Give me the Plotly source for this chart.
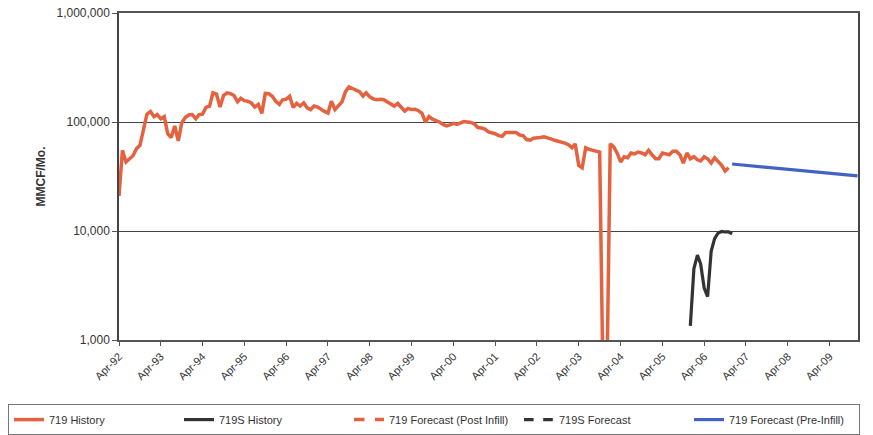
import plotly.graph_objects as go
import pandas as pd

# ---------------- data ----------------
hist_719_start = "1992-04-01"
hist_719_values = [
    21000, 55000, 43000, 46000, 49000, 57000, 61000, 85000, 118000, 125000, 112000, 117000,
    107000, 112000, 78000, 72000, 92000, 67000, 98000, 110000, 116000, 117000, 107000, 117000,
    118000, 136000, 140000, 185000, 180000, 137000, 175000, 185000, 182000, 175000, 153000, 165000,
    157000, 155000, 150000, 137000, 145000, 120000, 183000, 182000, 172000, 155000, 145000, 160000,
    162000, 172000, 136000, 148000, 140000, 150000, 135000, 130000, 140000, 137000, 130000, 125000,
    121000, 155000, 130000, 140000, 153000, 190000, 210000, 203000, 197000, 190000, 173000, 185000,
    170000, 163000, 160000, 162000, 160000, 153000, 148000, 140000, 148000, 135000, 126000, 133000,
    130000, 131000, 127000, 120000, 100000, 112000, 106000, 103000, 100000, 95000, 92000, 94000,
    97000, 95000, 98000, 101000, 100000, 99000, 96000, 89000, 88000, 86000, 81000, 80000,
    78000, 75000, 74000, 80000, 80000, 79000, 80000, 76000, 75000, 69000, 68000, 71000,
    71000, 72000, 73000, 72000, 70000, 68000, 67000, 66000, 64000, 62000, 58000, 63000,
    40000, 38000, 58000, 56000, 55000, 54000, 53000, 300, 300, 63000, 59000, 52000,
    43000, 48000, 47000, 52000, 51000, 53000, 52000, 50000, 55000, 50000, 46000, 46000,
    52000, 51000, 50000, 54000, 54000, 50000, 42000, 52000, 46000, 48000, 45000, 44000,
    48000, 46000, 42000, 47000, 43000, 40000, 35500, 38000,
]

hist_719s_start = "2005-12-01"
hist_719s_values = [1350, 4500, 6000, 5000, 3000, 2500, 6500, 8500, 9600, 9900, 9800, 9800, 9400]

fc_post_infill_dates = ["2006-12-01"]
fc_post_infill_values = [None]

fc_719s_dates = ["2006-12-01"]
fc_719s_values = [None]

fc_pre_infill_dates = ["2006-12-01", "2007-12-01", "2008-12-01", "2009-12-01"]
fc_pre_infill_values = [41200, 37900, 34800, 32000]

y_tick_values = [1000, 10000, 100000, 1000000]
y_tick_labels = ["1,000", "10,000", "100,000", "1,000,000"]

x_range = ["1992-04-01", "2009-12-05"]

# ---------------- figure ----------------
RED = "#e4623f"
BLACK = "#333333"
BLUE = "#4462c4"
FONT = "Liberation Sans, Arial, sans-serif"

hist_719_dates = pd.date_range(hist_719_start, periods=len(hist_719_values), freq="MS")
hist_719s_dates = pd.date_range(hist_719s_start, periods=len(hist_719s_values), freq="MS")

fig = go.Figure()
fig.add_trace(go.Scatter(x=hist_719_dates, y=hist_719_values, mode="lines",
                         name="719 History", line=dict(color=RED, width=3.5)))
fig.add_trace(go.Scatter(x=hist_719s_dates, y=hist_719s_values, mode="lines",
                         name="719S History", line=dict(color=BLACK, width=3.2)))
fig.add_trace(go.Scatter(x=fc_post_infill_dates, y=fc_post_infill_values, mode="lines",
                         name="719 Forecast (Post Infill)",
                         line=dict(color=RED, width=3.5, dash="dash")))
fig.add_trace(go.Scatter(x=fc_719s_dates, y=fc_719s_values, mode="lines",
                         name="719S Forecast", line=dict(color=BLACK, width=3.2, dash="dash")))
fig.add_trace(go.Scatter(x=fc_pre_infill_dates, y=fc_pre_infill_values, mode="lines",
                         name="719 Forecast (Pre-Infill)", line=dict(color=BLUE, width=3.2)))

fig.update_layout(
    template="none",
    width=873, height=435, autosize=False,
    margin=dict(l=119, r=15, t=13, b=95, autoexpand=False),
    paper_bgcolor="white", plot_bgcolor="white",
    font=dict(family=FONT, size=11, color="#333333"),
    showlegend=True,
    legend=dict(orientation="h", x=-0.1502, xanchor="left", y=-0.196, yanchor="top",
                bordercolor="#777777", borderwidth=1, bgcolor="white",
                font=dict(family=FONT, size=11, color="#333333"),
                entrywidth=125, entrywidthmode="pixels", itemwidth=30),
)
fig.update_xaxes(
    type="date", range=x_range, tick0="1992-04-01", dtick="M12", tickformat="%b-%y",
    tickangle=-45, ticks="outside", ticklen=4, tickcolor="#555555", automargin=False,
    showgrid=False, showline=True, linecolor="#555555", linewidth=1.5, mirror=True,
    tickfont=dict(family=FONT, size=11, color="#333333"), zeroline=False,
)
fig.update_yaxes(
    type="log", range=[3, 6], tickvals=y_tick_values, ticktext=y_tick_labels,
    ticks="outside", ticklen=5, tickcolor="#555555", automargin=False,
    showgrid=True, gridcolor="#444444", gridwidth=1, zeroline=False,
    showline=True, linecolor="#444444", linewidth=1.5, mirror=True,
    tickfont=dict(family=FONT, size=12, color="#333333"),
    title=dict(text="<b>MMCF/Mo.</b>", font=dict(family=FONT, size=12, color="#333333"),
               standoff=8),
)

fig.write_html("out.html", config={"displayModeBar": False},
               post_script="document.body.style.margin='0px';")
